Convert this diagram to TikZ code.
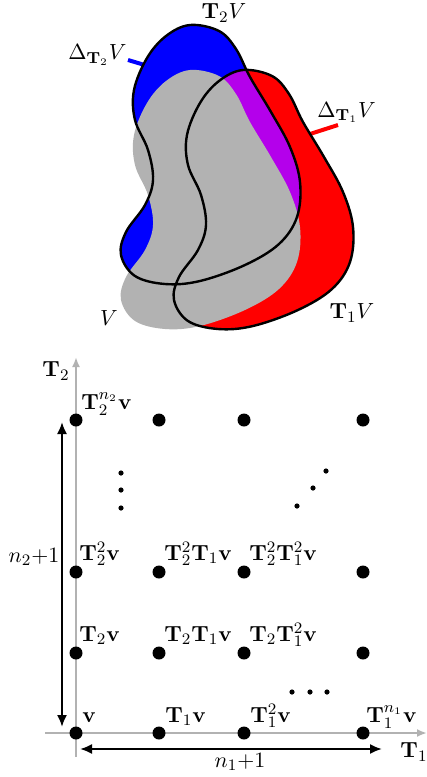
\documentclass[tikz,border=0pt]{standalone}
\usepackage{amsmath}
\usepackage{tikz}
\usetikzlibrary{arrows.meta, positioning, calc}

\definecolor{lilac}{RGB}{180,0,235}
\newcommand{\bT}{\mathbf{T}}
\newcommand{\bv}{\mathbf{v}}
% outline of the set V, in pixel units (y grows downwards)
\newcommand{\vblob}{plot[smooth cycle, tension=0.6] coordinates {(190,70) (219,76) (236,94) (250,122) (271,157) (290,192) (300,227) (297,262) (279,289) (245,310) (200,326) (165,329) (135,321) (121,300) (126,277) (145,250) (153,225) (148,195) (135,165) (134,135) (147,103) (166,81)}}

\tikzset{
  latdot/.style={circle, fill=black, inner sep=0pt, minimum size=6.5pt},
  dotlabel/.style={anchor=base west, inner sep=0pt},
  axisline/.style={black!30, line width=1pt, -{Latex[length=5pt,width=4pt]}},
  spanarrow/.style={line width=1pt, {Latex[length=6pt,width=5pt]}-{Latex[length=6pt,width=5pt]}},
}

\begin{document}
\begin{tikzpicture}[x=0.5pt, y=-0.5pt, font=\fontsize{11}{13}\selectfont]
        \useasboundingbox (0,0) rectangle (427,777);

        % T_2 V (shifted up) and T_1 V (shifted right), V on top
        \fill[blue, shift={(0,-45)}] \vblob;
        \fill[red, shift={(53,0)}] \vblob;
        \begin{scope}
            \clip[shift={(0,-45)}] \vblob;
            \fill[lilac, shift={(53,0)}] \vblob;
        \end{scope}
        \fill[black!30] \vblob;

        % pointers to the differences
        \coordinate (e2) at (148,66);
        \coordinate (s2) at (128,60);
        \draw[blue, line width=2pt] (e2) -- (s2);
        \coordinate (e1) at (310,134);
        \coordinate (s1) at (338,125);
        \draw[red, line width=2pt] (e1) -- (s1);

        % outlines
        \draw[line width=1.2pt, shift={(0,-45)}] \vblob;
        \draw[line width=1.2pt, shift={(53,0)}] \vblob;

        \node (t2v) at (224,13) {$\bT_2V$};
        \node (t1v) at (352,313) {$\bT_1V$};
        \node (v) at (109,318) {$V$};
        \node[anchor=east, inner sep=0pt] (d2) at (127,55) {$\Delta_{\bT_2}V$};
        \node[anchor=base west, inner sep=0pt] (d1) at (317,117) {$\Delta_{\bT_1}V$};

        % axes
        \coordinate (x0) at (45,733);
        \coordinate (x1) at (427,733);
        \coordinate (y0) at (76,757);
        \coordinate (y1) at (76,357);
        \draw[axisline] (x0) -- (x1);
        \draw[axisline] (y0) -- (y1);
        \node (ax1) at (414,752) {$\bT_1$};
        \node (ax2) at (56,371) {$\bT_2$};

        % lattice points
        \foreach \i/\x in {0/76,1/159,2/244,3/363}
            \foreach \j/\y in {0/733,1/653,2/572,3/420}
                \node[latdot] (p\i\j) at (\x,\y) {};

        \node[dotlabel] at ($(p00)+(6,-11)$) {$\bv$};
        \node[dotlabel] at ($(p10)+(6,-11)$) {$\bT_1\bv$};
        \node[dotlabel] at ($(p20)+(6,-11)$) {$\bT_1^2\bv$};
        \node[dotlabel] at ($(p30)+(3,-11)$) {$\bT_1^{n_1}\bv$};
        \node[dotlabel] at ($(p01)+(3,-12)$) {$\bT_2\bv$};
        \node[dotlabel] at ($(p11)+(5,-12)$) {$\bT_2\bT_1\bv$};
        \node[dotlabel] at ($(p21)+(5,-12)$) {$\bT_2\bT_1^2\bv$};
        \node[dotlabel] at ($(p02)+(3,-12)$) {$\bT_2^2\bv$};
        \node[dotlabel] at ($(p12)+(5,-12)$) {$\bT_2^2\bT_1\bv$};
        \node[dotlabel] at ($(p22)+(5,-12)$) {$\bT_2^2\bT_1^2\bv$};
        \node[dotlabel] at ($(p03)+(5,-11)$) {$\bT_2^{n_2}\bv$};

        % dots in between
        \foreach \y in {473,490,508} \fill (121,\y) circle (1.3pt);
        \foreach \x/\y in {326/471,313/488,297/506} \fill (\x,\y) circle (1.3pt);
        \foreach \x in {292,310,327} \fill (\x,692) circle (1.3pt);

        % sizes of the grid
        \coordinate (h0) at (80,749);
        \coordinate (h1) at (382,749);
        \coordinate (v0) at (62,727);
        \coordinate (v1) at (62,422);
        \draw[spanarrow] (h0) -- (h1);
        \draw[spanarrow] (v0) -- (v1);
        \node (n1) at (240,762) {$n_1{+}1$};
        \node (n2) at (34,557) {$n_2{+}1$};
    \end{tikzpicture}
\end{document}
